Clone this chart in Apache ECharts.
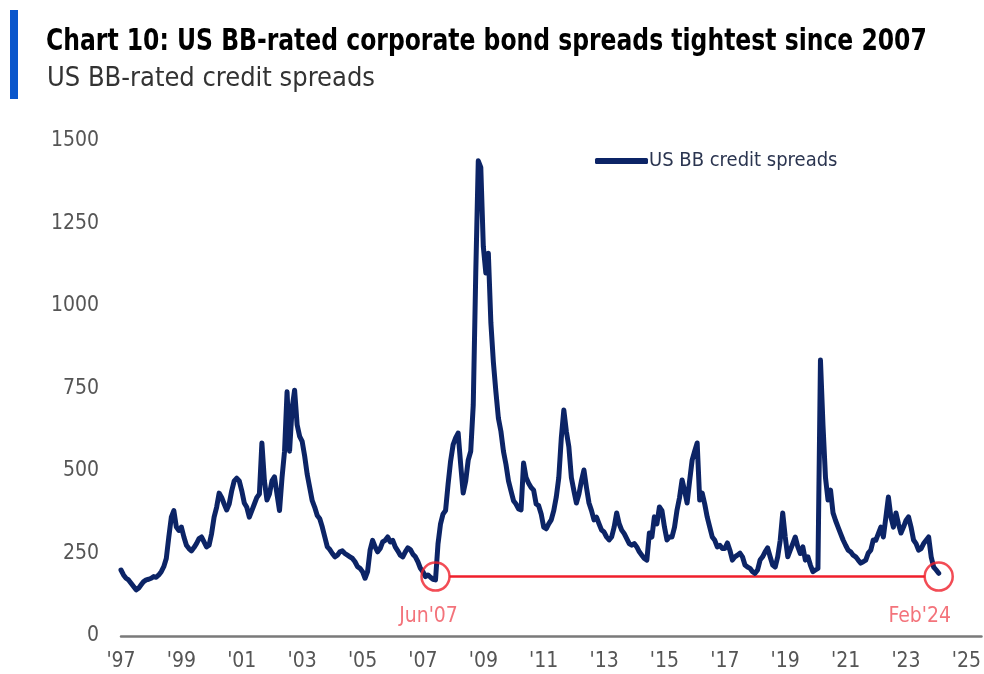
<!DOCTYPE html>
<html>
<head>
<meta charset="utf-8">
<title>US BB-rated credit spreads</title>
<script src="https://cdn.jsdelivr.net/npm/echarts@6/dist/echarts.min.js"></script>
<style>
  html, body { margin: 0; padding: 0; background: #ffffff; }
  #chart { width: 984px; height: 674px; }
</style>
</head>
<body>
<div id="chart"></div>
<script>
// Monthly US BB credit spreads (bp), Jan 1997 onwards
const startYear = 1997;
const spreads = [
  // 1997
  200, 185, 175, 170, 160, 150, 140, 145, 155, 165, 170, 172,
  // 1998
  175, 180, 178, 185, 195, 210, 235, 300, 360, 380, 330, 320,
  // 1999
  330, 300, 275, 265, 258, 268, 280, 295, 300, 285, 270, 275,
  // 2000
  310, 360, 390, 433, 420, 400, 382, 400, 440, 470, 478, 470,
  // 2001
  440, 403, 390, 360, 380, 400, 420, 430, 585, 470, 412, 430,
  // 2002
  470, 482, 430, 380, 480, 560, 740, 560, 690, 745, 640, 605,
  // 2003
  590, 545, 490, 450, 410, 390, 365, 355, 330, 300, 270, 262,
  // 2004
  250, 240, 245, 255, 258, 250, 245, 240, 235, 225, 210, 205,
  // 2005
  195, 175, 195, 260, 290, 270, 255, 265, 285, 290, 300, 285,
  // 2006
  290, 270, 258, 245, 240, 255, 267, 262, 248, 240, 225, 205,
  // 2007
  195, 180, 185, 178, 172, 170, 280, 340, 370, 380, 460, 530,
  // 2008
  580, 600, 615, 520, 433, 470, 533, 560, 700, 1100, 1440, 1420,
  // 2009
  1180, 1100, 1160, 950, 830, 740, 660, 620, 560, 520, 470, 440,
  // 2010
  410, 400, 385, 382, 524, 480, 463, 450, 442, 400, 395, 370,
  // 2011
  330, 325, 340, 352, 380, 421, 480, 600, 685, 620, 573, 480,
  // 2012
  440, 403, 430, 470, 503, 450, 403, 380, 352, 360, 340, 321,
  // 2013
  315, 300, 291, 300, 330, 373, 340, 321, 310, 295, 280, 275,
  // 2014
  280, 270, 255, 245, 235, 230, 312, 300, 361, 340, 391, 380,
  // 2015
  330, 291, 300, 300, 330, 382, 420, 473, 440, 403, 470, 533,
  // 2016
  560, 585, 412, 433, 400, 360, 330, 300, 290, 270, 275, 265,
  // 2017
  265, 282, 260, 230, 240, 245, 251, 240, 215, 209, 205, 195,
  // 2018
  190, 200, 230, 240, 255, 267, 240, 215, 209, 240, 290, 373,
  // 2019
  300, 240, 260, 280, 300, 270, 250, 270, 230, 240, 215, 195,
  // 2020
  200, 205, 836, 640, 480, 412, 442, 373, 350, 330, 310, 291,
  // 2021
  275, 260, 255, 245, 240, 230, 221, 225, 230, 251, 260, 291,
  // 2022
  290, 310, 330, 300, 360, 421, 360, 330, 373, 340, 312, 330,
  // 2023
  350, 361, 330, 291, 280, 260, 265, 280, 290, 300, 240, 209,
  // 2024
  200, 190
];

// Annotation: the two tightest points, joined at the same spread level
const markerDates = [2007 + 5 / 12, 2024 + 1 / 12];
const markerLabels = ["Jun'07", "Feb'24"];
const tightLevel = 180;

// Axis ticks
const yTicks = [0, 250, 500, 750, 1000, 1250, 1500];
const xFirstYear = 1997;
const xLastYear = 2025;

const titleText = 'Chart 10: US BB-rated corporate bond spreads tightest since 2007';
const subtitleText = 'US BB-rated credit spreads';
const seriesName = 'US BB credit spreads';
const navy = '#0c2466';
const red = '#ef1f2b';
const labelFont = '"DejaVu Sans Condensed", "Noto Sans", sans-serif';

const lineData = spreads.map((v, i) => [startYear + i / 12, v]);
const markerData = markerDates.map((d, i) => ({ value: [d, tightLevel], name: markerLabels[i] }));

const chart = echarts.init(document.getElementById('chart'), null, { renderer: 'canvas' });

const option = {
  animation: false,
  backgroundColor: '#ffffff',
  graphic: [
    { type: 'rect', left: 10, top: 10, shape: { width: 8, height: 89 }, style: { fill: '#0a56cc' } },
    {
      type: 'text', x: 46, y: 27, scaleX: 0.87,
      style: { text: titleText, font: 'bold 30px ' + labelFont, fill: '#000000', textVerticalAlign: 'top' }
    },
    {
      type: 'text', x: 47, y: 65,
      style: { text: subtitleText, font: '27px ' + labelFont, fill: '#333333', textVerticalAlign: 'top' }
    }
  ],
  legend: {
    left: 590, top: 146,
    itemWidth: 53, itemHeight: 6, itemGap: 10,
    data: [{ name: seriesName, icon: 'roundRect' }],
    textStyle: { fontFamily: labelFont, fontSize: 20, color: '#2b3550', padding: [0, 0, 0, -4] }
  },
  grid: { left: 121, right: 1, top: 141, bottom: 38, containLabel: false },
  xAxis: {
    type: 'value',
    min: xFirstYear, max: xLastYear + 0.5, interval: 2,
    axisLine: { show: true, lineStyle: { color: '#7a7a7a', width: 2.5 } },
    axisTick: { show: false },
    splitLine: { show: false },
    axisLabel: {
      margin: 15, fontFamily: labelFont, fontSize: 21, color: '#555555',
      showMaxLabel: false,
      formatter: v => (Number.isInteger(v) ? "'" + String(v).slice(2) : '')
    }
  },
  yAxis: {
    type: 'value',
    min: yTicks[0], max: yTicks[yTicks.length - 1], interval: yTicks[1] - yTicks[0],
    axisLine: { show: false },
    axisTick: { show: false },
    splitLine: { show: false },
    axisLabel: {
      margin: 22, fontFamily: labelFont, fontSize: 21, color: '#555555',
      formatter: v => String(v)
    }
  },
  series: [
    {
      name: 'tightest level',
      type: 'line',
      data: [],
      showSymbol: false,
      silent: true,
      z: 1,
      lineStyle: { color: red, width: 2.5 }
    },
    {
      name: seriesName,
      type: 'line',
      data: lineData,
      showSymbol: false,
      z: 3,
      color: navy,
      lineStyle: { color: navy, width: 5, cap: 'round', join: 'round' }
    },
    {
      name: 'markers',
      type: 'scatter',
      data: markerData,
      symbol: 'circle',
      symbolSize: 28,
      z: 4,
      silent: true,
      itemStyle: { color: 'rgba(255,255,255,0)', borderColor: red, borderWidth: 2.5 },
      label: {
        show: true,
        position: 'bottom',
        distance: 14,
        formatter: p => p.name,
        fontFamily: labelFont, fontSize: 21, color: '#f0505a'
      },
      labelLayout: p => ({ dx: p.dataIndex === 0 ? -7 : -19 })
    }
  ]
};

chart.setOption(option);

// Run the connecting line from the rim of one circle to the rim of the other
const x0 = chart.convertToPixel({ xAxisIndex: 0 }, markerDates[0]);
const x1 = chart.convertToPixel({ xAxisIndex: 0 }, markerDates[1]);
const rimYears = 14 * (markerDates[1] - markerDates[0]) / (x1 - x0);
chart.setOption({
  series: [{
    name: 'tightest level',
    data: [[markerDates[0] + rimYears, tightLevel], [markerDates[1] - rimYears, tightLevel]]
  }]
});
</script>
</body>
</html>
